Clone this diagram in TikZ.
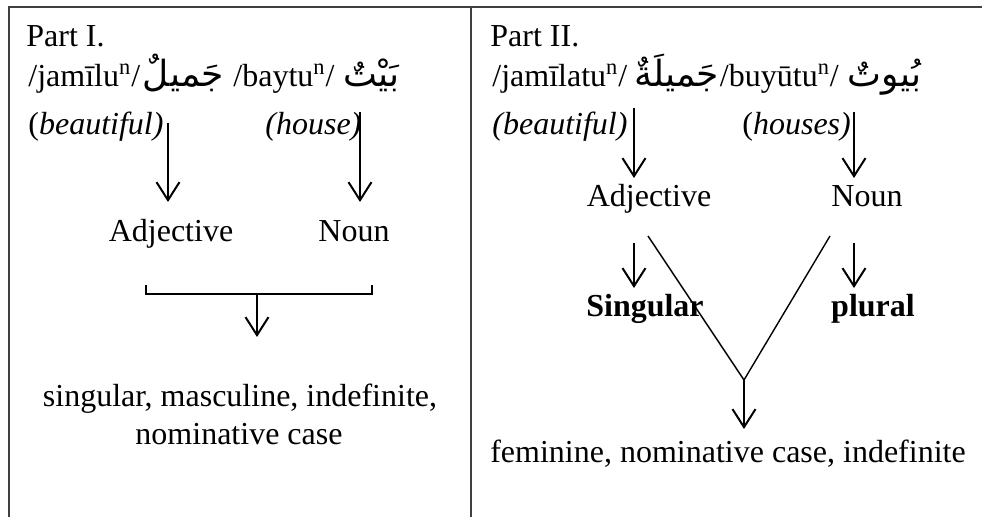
\documentclass[tikz,border=0pt]{standalone}
\usepackage{fontspec}
\setmainfont{Liberation Serif}
\newfontfamily\arabicfont[Script=Arabic]{DejaVu Sans}
\TeXXeTstate=1
\usetikzlibrary{arrows.meta}

\begin{document}
\begin{tikzpicture}[x=0.5pt,y=-0.5pt,
		every node/.style={inner sep=0pt,font=\fontsize{16}{19}\selectfont},
		word/.style={anchor=base west},
		cat/.style={anchor=base},
		arab/.style={anchor=base west,font=\fontsize{18}{22}\selectfont\arabicfont},
		arr/.style={line width=1pt,-{Straight Barb[length=9pt,width=11.5pt,line width=1pt]}},
		frame/.style={line width=0.75pt,draw=black!75},
		link/.style={line width=0.7pt}]
		\useasboundingbox (0,0) rectangle (982,517);

		% Table frame
		\draw[frame] (9,517) -- (9,7) -- (982,7);
		\draw[frame] (471,7) -- (471,517);

		% Part I: words
		\node[word] (titleI) at (26,47) {Part I.};
		\node[word] (jamilu) at (28,87) {/jamīlu\textsuperscript{n}/};
		\node[arab] (jamiluAr) at ([xshift=1pt]jamilu.base east) {\beginR جَميلٌ\endR};
		\node[word] (baytu) at (233,87) {/baytu\textsuperscript{n}/};
		\node[arab] (baytuAr) at ([xshift=4pt]baytu.base east) {\beginR بَيْتٌ\endR};
		\node[word] (beautI) at (28,135) {(\textit{beautiful)}};
		\node[word] (house) at (265,135) {\textit{(house)}};

		% Part I: categories
		\node[cat] (adjI) at (171,242) {Adjective};
		\node[cat] (nounI) at (354,242) {Noun};
		\node[cat] (sumIa) at (240,407) {singular, masculine, indefinite,};
		\node[cat] (sumIb) at (239,445) {nominative case};

		% Part I: connectors
		\coordinate (adjIin) at (168,123);
		\coordinate (adjIout) at (168,202);
		\coordinate (nounIin) at (360,112);
		\coordinate (nounIout) at (360,202);
		\coordinate (brL) at (146,285);
		\coordinate (brR) at (372,285);
		\coordinate (brM) at (257,294);
		\coordinate (sumIin) at (257,337);
		\draw[arr] (adjIin) -- (adjIout);
		\draw[arr] (nounIin) -- (nounIout);
		\draw[line width=1.3pt] (brL) -- (brL |- brM) -- (brR |- brM) -- (brR);
		\draw[arr] (brM) -- (sumIin);

		% Part II: words (one line, set end to end)
		\node[word] (titleII) at (490,47) {Part II.};
		\node[word] (jamilatu) at (492,87) {/jamīlatu\textsuperscript{n}/};
		\node[arab] (jamilatuAr) at ([xshift=3pt]jamilatu.base east) {\beginR جَميلَةٌ\endR};
		\node[word] (buyutu) at (jamilatuAr.base east) {/buyūtu\textsuperscript{n}/};
		\node[arab] (buyutuAr) at ([xshift=4pt]buyutu.base east) {\beginR بُيوتٌ\endR};
		\node[word] (beautII) at (492,135) {\textit{(beautiful)}};
		\node[word] (houses) at (742,135) {(\textit{houses)}};

		% Part II: categories
		\node[cat] (adjII) at (649,207) {Adjective};
		\node[cat] (nounII) at (867,207) {Noun};
		\node[cat] (sing) at (645,317) {\textbf{Singular}};
		\node[cat] (plur) at (873,317) {\textbf{plural}};
		\node[cat] (sumII) at (728,463) {feminine, nominative case, indefinite};

		% Part II: connectors
		\coordinate (adjIIin) at (634,108);
		\coordinate (adjIIout) at (634,178);
		\coordinate (nounIIin) at (854,112);
		\coordinate (nounIIout) at (854,178);
		\coordinate (singin) at (634,243);
		\coordinate (singout) at (634,288);
		\coordinate (plurin) at (854,243);
		\coordinate (plurout) at (854,288);
		\coordinate (vL) at (648,236);
		\coordinate (vR) at (830,236);
		\coordinate (vtip) at (744,380);
		\coordinate (sumIIin) at (744,429);
		\draw[arr] (adjIIin) -- (adjIIout);
		\draw[arr] (nounIIin) -- (nounIIout);
		\draw[arr] (singin) -- (singout);
		\draw[arr] (plurin) -- (plurout);
		\draw[link] (vL) -- (vtip) -- (vR);
		\draw[arr] (vtip) -- (sumIIin);
	\end{tikzpicture}
\end{document}
